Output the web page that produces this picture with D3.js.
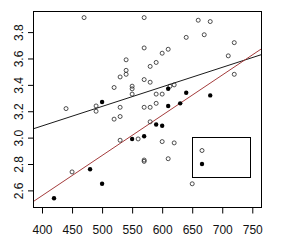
<!DOCTYPE html>
<html>
<head>
<meta charset="utf-8">
<script src="https://cdn.jsdelivr.net/npm/d3@7"></script>
<style>
  body { margin: 0; background: #fff; }
  svg { display: block; font-family: "Liberation Sans", Arial, sans-serif; }
  .axis text { font-size: 12px; fill: #111; }
  .axis path { display: none; }
  .axis line { stroke: #000; }
</style>
</head>
<body>
<div id="chart"></div>
<script>
// points drawn as open circles (x, gpa)
const openPoints = [
    [470, 3.91], [440, 3.22], [490, 3.24], [490, 3.20], [520, 3.38], [520, 3.14],
    [530, 3.16], [530, 3.23], [530, 3.46], [540, 3.59], [540, 3.51], [540, 3.48],
    [550, 3.39], [550, 3.37], [550, 3.33], [570, 3.91], [660, 3.89], [680, 3.88],
    [670, 3.78], [640, 3.76], [720, 3.72], [570, 3.68], [610, 3.67], [600, 3.64],
    [710, 3.62], [590, 3.57], [580, 3.54], [570, 3.44], [580, 3.42], [720, 3.48],
    [613, 3.39], [620, 3.40], [590, 3.33], [600, 3.33], [570, 3.23], [580, 3.23],
    [590, 3.26], [580, 3.12], [600, 2.97], [620, 2.96], [570, 2.83], [570, 2.82],
    [610, 2.84], [650, 2.65], [450, 2.74], [530, 2.98], [560, 2.99]
];

// points drawn as filled circles
const filledPoints = [
    [500, 3.27], [610, 3.37], [640, 3.34], [680, 3.32], [610, 3.24], [630, 3.26],
    [590, 3.10], [600, 3.09], [570, 3.01], [550, 2.99], [480, 2.76], [500, 2.65],
    [420, 2.54]
];

// fitted lines: [intercept, slope]
const allFit = [2.496, 0.001481];
const filledFit = [1.340, 0.003049];

const xTicks = [400, 450, 500, 550, 600, 650, 700, 750];
const yTicks = [2.6, 2.8, 3.0, 3.2, 3.4, 3.6, 3.8];

/* ===== Layout ===== */
const width = 282, height = 247;
const margin = {top: 11, right: 21, bottom: 40, left: 33};

const svg = d3.select("#chart").append("svg")
    .attr("width", width)
    .attr("height", height);

const x = d3.scaleLinear()
    .domain([385, 764.5])
    .range([margin.left, width - margin.right]);

const y = d3.scaleLinear()
    .domain([2.474, 3.96])
    .range([height - margin.bottom, margin.top]);

const [x0, x1] = x.domain();

// clip for the lines so they stop at the box
svg.append("clipPath").attr("id", "plotclip")
   .append("rect")
   .attr("x", margin.left).attr("y", margin.top)
   .attr("width", x.range()[1] - x.range()[0])
   .attr("height", y.range()[0] - y.range()[1]);

const lines = svg.append("g").attr("clip-path", "url(#plotclip)");

function drawFit(fit, color) {
    lines.append("line")
        .attr("x1", x(x0)).attr("y1", y(fit[0] + fit[1] * x0))
        .attr("x2", x(x1)).attr("y2", y(fit[0] + fit[1] * x1))
        .attr("stroke", color)
        .attr("stroke-width", 1);
}
drawFit(allFit, "#1a1a1a");
drawFit(filledFit, "#a43c3c");

// points
svg.append("g").selectAll("circle")
    .data(openPoints)
    .join("circle")
    .attr("cx", d => x(d[0]))
    .attr("cy", d => y(d[1]))
    .attr("r", 2)
    .attr("fill", "none")
    .attr("stroke", "#222")
    .attr("stroke-width", 0.8);

svg.append("g").selectAll("circle")
    .data(filledPoints)
    .join("circle")
    .attr("cx", d => x(d[0]))
    .attr("cy", d => y(d[1]))
    .attr("r", 2.2)
    .attr("fill", "#000");

// box
svg.append("rect")
    .attr("x", margin.left + 0.5)
    .attr("y", margin.top + 0.5)
    .attr("width", x.range()[1] - x.range()[0])
    .attr("height", y.range()[0] - y.range()[1])
    .attr("fill", "none")
    .attr("stroke", "#000");

// x axis
svg.append("g")
    .attr("class", "axis")
    .attr("transform", `translate(0,${height - margin.bottom + 0.5})`)
    .call(d3.axisBottom(x).tickValues(xTicks).tickSize(6).tickPadding(11.5).tickFormat(d3.format("d")));

// y axis, labels parallel to the axis like R
const yAxis = svg.append("g")
    .attr("class", "axis")
    .attr("transform", `translate(${margin.left + 0.5},0)`)
    .call(d3.axisLeft(y).tickValues(yTicks).tickSize(5.5).tickFormat(d3.format(".1f")));

yAxis.selectAll("text")
    .attr("transform", "rotate(-90)")
    .attr("x", 0)
    .attr("y", -11)
    .attr("dy", 0)
    .attr("text-anchor", "middle");

// legend box (no text in the original)
const legend = svg.append("g")
    .attr("transform", `translate(${x.range()[1] - 69},${margin.top + 126})`);

legend.append("rect")
    .attr("x", 0.5).attr("y", 0.5)
    .attr("width", 58).attr("height", 40)
    .attr("fill", "none")
    .attr("stroke", "#000");

legend.append("circle")
    .attr("cx", 10).attr("cy", 13.5).attr("r", 2)
    .attr("fill", "none").attr("stroke", "#222").attr("stroke-width", 0.8);

legend.append("circle")
    .attr("cx", 10).attr("cy", 27).attr("r", 2.2)
    .attr("fill", "#000");
</script>
</body>
</html>
